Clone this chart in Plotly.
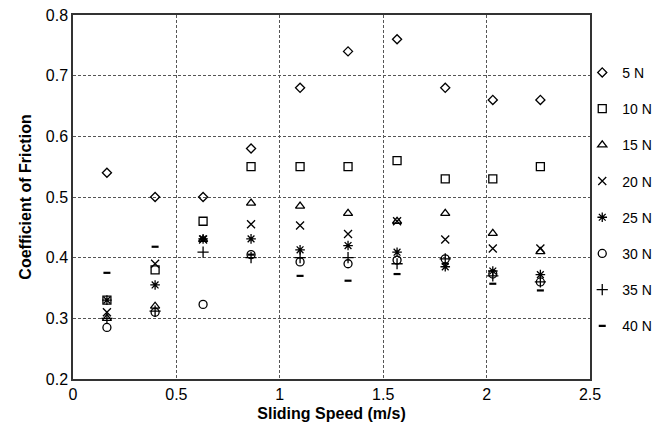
import plotly.graph_objects as go

speeds = [0.164, 0.397, 0.629, 0.861, 1.098, 1.33, 1.567, 1.80, 2.03, 2.26]
load_labels = ["5 N", "10 N", "15 N", "20 N", "25 N", "30 N", "35 N", "40 N"]

cof_5N  = [0.54, 0.50, 0.50, 0.58, 0.68, 0.74, 0.76, 0.68, 0.66, 0.66]
cof_10N = [0.33, 0.38, 0.46, 0.55, 0.55, 0.55, 0.56, 0.53, 0.53, 0.55]
cof_15N = [0.30, 0.32, 0.43, 0.49, 0.485, 0.473, 0.46, 0.473, 0.44, 0.41]
cof_20N = [0.31, 0.39, 0.43, 0.455, 0.453, 0.439, 0.46, 0.43, 0.415, 0.415]
cof_25N = [0.33, 0.355, 0.431, 0.431, 0.413, 0.42, 0.409, 0.385, 0.378, 0.372]
cof_30N = [0.285, 0.31, 0.323, 0.405, 0.393, 0.39, 0.396, 0.398, 0.373, 0.36]
cof_35N = [0.30, 0.312, 0.409, 0.40, 0.40, 0.40, 0.39, 0.398, 0.37, 0.36]
cof_40N = [0.375, 0.418, 0.43, 0.405, 0.37, 0.362, 0.373, 0.39, 0.357, 0.346]

series = [cof_5N, cof_10N, cof_15N, cof_20N, cof_25N, cof_30N, cof_35N, cof_40N]
symbols = ["diamond-open", "square-open", "triangle-up-open", "x-thin-open",
           "asterisk-open", "circle-open", "cross-thin-open", "line-ew-open"]
sizes = [7, 8, 8, 8, 8, 8, 8, 5]
widths = [1.3, 1.3, 1.3, 1.3, 1.3, 1.3, 1.3, 2.2]

FONT = "Liberation Sans, Arial, sans-serif"

fig = go.Figure()
for i, (lab, vals) in enumerate(zip(load_labels, series)):
    fig.add_trace(go.Scatter(
        x=speeds, y=vals, mode="markers", name=lab, legendgroup=lab,
        marker=dict(symbol=symbols[i], size=sizes[i], color="black",
                    line=dict(color="black", width=widths[i])),
    ))

axis_font = dict(family=FONT, size=16, color="black")
fig.update_layout(
    width=664, height=436,
    margin=dict(l=73, r=74, t=15, b=57, autoexpand=False),
    paper_bgcolor="white", plot_bgcolor="white",
    font=axis_font,
    legend=dict(x=0.985, xanchor="left", y=0.885, yanchor="top",
                font=dict(family=FONT, size=14, color="black"),
                tracegroupgap=15, itemwidth=30, bgcolor="rgba(0,0,0,0)",
                borderwidth=0),
    xaxis=dict(range=[0, 2.5], dtick=0.5, showgrid=True, gridcolor="#555",
               griddash="3px,2px", gridwidth=1, showline=True, linecolor="#333",
               linewidth=1.5, mirror=True, zeroline=False, ticks="",
               tickfont=axis_font, automargin=False,
               title=dict(text="<b>Sliding Speed (m/s)</b>",
                          font=dict(size=16, family=FONT), standoff=6)),
    yaxis=dict(range=[0.2, 0.8], dtick=0.1, tickformat=".1f", showgrid=True,
               gridcolor="#555", griddash="3px,2px", gridwidth=1, showline=True,
               linecolor="#333", linewidth=1.5, mirror=True, zeroline=False,
               ticks="", tickfont=axis_font, automargin=False,
               title=dict(text="<b>Coefficient of Friction</b>",
                          font=dict(size=16, family=FONT), standoff=10)),
)

fig.write_html("out.html", config={"displayModeBar": False},
               post_script="document.body.style.margin='0';document.body.style.overflow='hidden';")
